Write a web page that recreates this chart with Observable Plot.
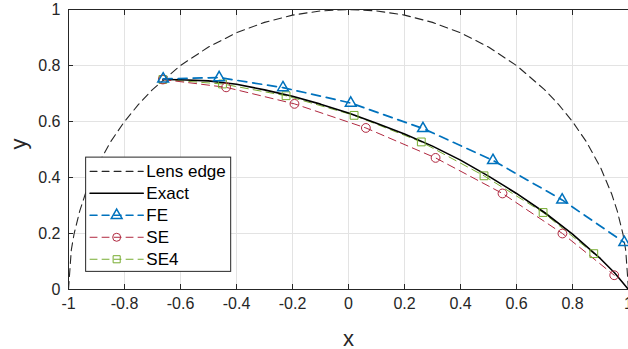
<!DOCTYPE html>
<html>
<head>
<meta charset="utf-8">
<script src="https://cdn.jsdelivr.net/npm/d3@7"></script>
<script src="https://cdn.jsdelivr.net/npm/@observablehq/plot@0.6"></script>
<style>
  html, body { margin: 0; padding: 0; background: #fff; }
  #chart svg { display: block; }
</style>
</head>
<body>
<div id="chart"></div>
<script>
// ---- data ----
const lensX = [-1, -0.99, -0.98, -0.96, -0.94, -0.9, -0.85, -0.8, -0.75, -0.7, -0.6, -0.5, -0.4, -0.3, -0.2, -0.1, 0, 0.1, 0.2, 0.3, 0.4, 0.5, 0.6, 0.7, 0.75, 0.8, 0.85, 0.9, 0.94, 0.96, 0.98, 0.99, 1];
const lensY = [0, 0.141, 0.199, 0.280, 0.341, 0.436, 0.527, 0.600, 0.661, 0.714, 0.800, 0.866, 0.917, 0.954, 0.980, 0.995, 1, 0.995, 0.980, 0.954, 0.917, 0.866, 0.800, 0.714, 0.661, 0.600, 0.527, 0.436, 0.341, 0.280, 0.199, 0.141, 0];

const exactX = [-0.663, -0.6, -0.5, -0.4, -0.3, -0.2, -0.1, 0, 0.1, 0.2, 0.3, 0.4, 0.5, 0.6, 0.7, 0.8, 0.9, 0.95, 1.0];
const exactY = [0.750, 0.749, 0.745, 0.733, 0.713, 0.690, 0.662, 0.630, 0.594, 0.555, 0.512, 0.462, 0.405, 0.343, 0.275, 0.198, 0.110, 0.060, 0.0];

const feX = [-0.662, -0.462, -0.234, 0.008, 0.266, 0.516, 0.763, 0.985];
const feY = [0.752, 0.757, 0.721, 0.666, 0.575, 0.461, 0.320, 0.168];

const seX = [-0.663, -0.437, -0.193, 0.062, 0.311, 0.550, 0.764, 0.949];
const seY = [0.750, 0.722, 0.663, 0.577, 0.470, 0.343, 0.200, 0.051];

const se4X = [-0.663, -0.450, -0.223, 0.020, 0.260, 0.484, 0.695, 0.876];
const se4Y = [0.750, 0.734, 0.692, 0.622, 0.527, 0.406, 0.275, 0.128];

const xTicks = [-1, -0.8, -0.6, -0.4, -0.2, 0, 0.2, 0.4, 0.6, 0.8, 1];
const yTicks = [0, 0.2, 0.4, 0.6, 0.8, 1];
const seriesNames = ["Lens edge", "Exact", "FE", "SE", "SE4"];

// ---- styles ----
const C = {lens: "#262626", exact: "#000000", fe: "#0072BD", se: "#B0283F", se4: "#77AC30", axis: "#262626", grid: "#e3e3e3"};
const FONT = "'Liberation Sans', Arial, Helvetica, sans-serif";

const pts = (xs, ys) => xs.map((x, i) => ({x, y: ys[i]}));
const lens = pts(lensX, lensY);
const exact = pts(exactX, exactY);
const fe = pts(feX, feY);
const se = pts(seX, seY);
const se4 = pts(se4X, se4Y);

// legend layout (data coordinates)
const legX0 = -0.937, legX1 = -0.419, legY0 = 0.063, legY1 = 0.471;
const rowY0 = 0.422, rowStep = 0.0785;
const sampleX1 = -0.923, sampleX2 = -0.733, sampleMid = -0.828, textX = -0.722;
const legendStyles = [
  {stroke: C.lens, dash: "7,5", width: 1.1, symbol: null},
  {stroke: C.exact, dash: null, width: 1.6, symbol: null},
  {stroke: C.fe, dash: "7,5", width: 1.5, symbol: "triangle"},
  {stroke: C.se, dash: "7,5", width: 1, symbol: "circle"},
  {stroke: C.se4, dash: "7,5", width: 1, symbol: "square"}
];
const legendRows = seriesNames.map((name, i) => ({name, y: rowY0 - i * rowStep, ...legendStyles[i]}));

const marks = [
  Plot.ruleX(xTicks, {stroke: C.grid, strokeWidth: 1}),
  Plot.ruleY(yTicks, {stroke: C.grid, strokeWidth: 1}),
  Plot.line(lens, {x: "x", y: "y", stroke: C.lens, strokeWidth: 1.1, strokeDasharray: "8,5"}),
  Plot.line(se4, {x: "x", y: "y", stroke: C.se4, strokeWidth: 1, strokeDasharray: "8,5"}),
  Plot.line(exact, {x: "x", y: "y", stroke: C.exact, strokeWidth: 1.6}),
  Plot.line(se, {x: "x", y: "y", stroke: C.se, strokeWidth: 1, strokeDasharray: "8,5"}),
  Plot.line(fe, {x: "x", y: "y", stroke: C.fe, strokeWidth: 1.7, strokeDasharray: "9,6"}),
  Plot.dot(se4, {x: "x", y: "y", symbol: "square", r: 4.4, stroke: C.se4, fill: "none", strokeWidth: 1}),
  Plot.dot(se, {x: "x", y: "y", symbol: "circle", r: 4.4, stroke: C.se, fill: "none", strokeWidth: 1}),
  Plot.dot(fe, {x: "x", y: "y", symbol: "triangle", r: 4.0, stroke: C.fe, fill: "none", strokeWidth: 1.5}),
  // axes box lines
  Plot.ruleX([-1], {stroke: C.axis, strokeWidth: 1}),
  Plot.ruleY([0], {stroke: C.axis, strokeWidth: 1}),
  Plot.ruleY([1], {stroke: C.axis, strokeWidth: 1.2}),
  Plot.axisX({anchor: "bottom", ticks: xTicks, tickSize: -5, tickPadding: 13, tickFormat: d => String(d), fontSize: 16, color: C.axis, label: null}),
  Plot.axisX({anchor: "top", ticks: xTicks, tickSize: -5, tickFormat: () => "", color: C.axis, label: null}),
  Plot.axisY({anchor: "left", ticks: yTicks, tickSize: -5, tickPadding: 13, tickFormat: d => String(d), fontSize: 16, color: C.axis, label: null}),
  // axis titles
  Plot.text(["x"], {frameAnchor: "bottom", dy: 49, fontSize: 22, fill: C.axis, lineAnchor: "middle"}),
  Plot.text(["y"], {frameAnchor: "left", dx: -50, rotate: -90, fontSize: 22, fill: C.axis, lineAnchor: "middle"}),
  // legend
  Plot.rect([0], {x1: legX0, x2: legX1, y1: legY0, y2: legY1, fill: "white", stroke: "#262626", strokeWidth: 1}),
  ...legendRows.map(r => Plot.line([{x: sampleX1, y: r.y}, {x: sampleX2, y: r.y}], {x: "x", y: "y", stroke: r.stroke, strokeWidth: r.width, strokeDasharray: r.dash})),
  ...legendRows.filter(r => r.symbol).map(r => Plot.dot([{x: sampleMid, y: r.y}], {x: "x", y: "y", symbol: r.symbol, r: 4.0, stroke: r.stroke, fill: "none", strokeWidth: r.symbol === "triangle" ? 1.5 : 1})),
  Plot.text(legendRows, {x: () => textX, y: "y", text: "name", textAnchor: "start", fontSize: 17, fill: "#000"})
];

const chart = Plot.plot({
  width: 628,
  height: 349,
  marginLeft: 68,
  marginRight: 0,
  marginTop: 9,
  marginBottom: 60,
  style: {fontFamily: FONT, background: "white", overflow: "visible"},
  x: {domain: [-1, 1]},
  y: {domain: [0, 1]},
  marks
});
document.getElementById("chart").append(chart);
</script>
</body>
</html>
